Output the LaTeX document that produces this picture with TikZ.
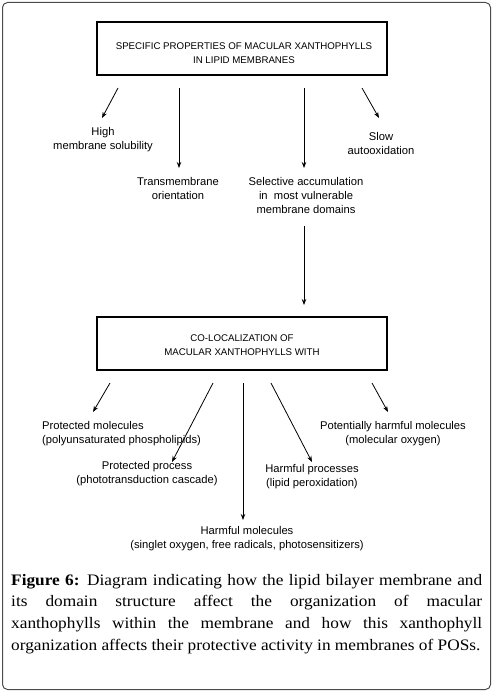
\documentclass[tikz,border=0pt]{standalone}
\usepackage{fontspec}
\setmainfont{Liberation Serif}[FakeStretch=1.08]
\newfontfamily\diag{Liberation Sans}
\usetikzlibrary{arrows.meta}
\begin{document}
\begin{tikzpicture}[x=1pt,y=-1pt,
  lbl/.style={font=\diag\fontsize{11.2}{14}\selectfont, align=center, inner sep=0pt},
  hdr/.style={font=\diag\fontsize{9.7}{14}\selectfont, align=center, inner sep=0pt},
  boxst/.style={draw, line width=1.1pt, minimum width=290pt, minimum height=53pt, inner sep=0pt},
  arr/.style={-{Stealth[length=6pt,width=4.5pt]}, line width=0.8pt}]
\useasboundingbox (0,0) rectangle (493,693);
\draw[black!70, line width=1pt, rounded corners=5pt] (2.5,2.5) rectangle (490.5,689.5);

% top box
\node[boxst] (top) at (242,48.5) {};
\node[hdr] (toptxt) at (244,53) {SPECIFIC PROPERTIES OF MACULAR XANTHOPHYLLS\\IN LIPID MEMBRANES};

% level 1 labels
\node[lbl] (high) at (103,140) {High\\membrane solubility};
\node[lbl] (trans) at (178,188) {Transmembrane\\orientation};
\node[lbl] (sel) at (306,195) {Selective accumulation\\in\ \ most vulnerable\\membrane domains};
\node[lbl] (slow) at (381,143.5) {Slow\\autooxidation};

\coordinate (a1s) at (118,88);  \coordinate (a1e) at (102,118);
\coordinate (a2s) at (179,88);  \coordinate (a2e) at (179,168);
\coordinate (a3s) at (304,88);  \coordinate (a3e) at (304,168);
\coordinate (a4s) at (362,88);  \coordinate (a4e) at (379,118);
\draw[arr] (a1s) -- (a1e);
\draw[arr] (a2s) -- (a2e);
\draw[arr] (a3s) -- (a3e);
\draw[arr] (a4s) -- (a4e);

% long arrow
\coordinate (ls) at (304,226); \coordinate (le) at (304,305);
\draw[arr] (ls) -- (le);

% second box
\node[boxst] (co) at (242,343.5) {};
\node[hdr] (cotxt) at (242,345) {CO-LOCALIZATION OF\\MACULAR XANTHOPHYLLS WITH};

% level 2 labels
\node[lbl, align=left, anchor=west] (pm) at (42,434) {Protected molecules\\(polyunsaturated phospholipids)};
\node[lbl] (pp) at (147,474) {Protected process\\(phototransduction cascade)};
\node[lbl] (hm) at (247,539) {Harmful molecules\\(singlet oxygen, free radicals, photosensitizers)};
\node[lbl] (hp) at (312,477) {Harmful processes\\(lipid peroxidation)};
\node[lbl] (ph) at (393,434) {Potentially harmful molecules\\(molecular oxygen)};

\coordinate (b1s) at (110,383); \coordinate (b1e) at (93,412);
\coordinate (b2s) at (213,383); \coordinate (b2e) at (172,462);
\coordinate (b3s) at (243,383); \coordinate (b3e) at (243,520);
\coordinate (b4s) at (271,383); \coordinate (b4e) at (312,462);
\coordinate (b5s) at (372,383); \coordinate (b5e) at (388,412);
\draw[arr] (b1s) -- (b1e);
\draw[arr] (b2s) -- (b2e);
\draw[arr] (b3s) -- (b3e);
\draw[arr] (b4s) -- (b4e);
\draw[arr] (b5s) -- (b5e);

% caption
\node[anchor=north west, inner sep=0pt, text width=471pt, align=justify,
      font=\fontsize{16}{21.6}\selectfont] (caption) at (11,574)
 {\parfillskip=0pt \textbf{Figure 6:} Diagram indicating how the lipid bilayer membrane and\linebreak
 its domain structure affect the organization of macular\linebreak
 xanthophylls within the membrane and how this xanthophyll\linebreak
 organization affects their protective activity in membranes of POSs.};
\end{tikzpicture}
\end{document}
